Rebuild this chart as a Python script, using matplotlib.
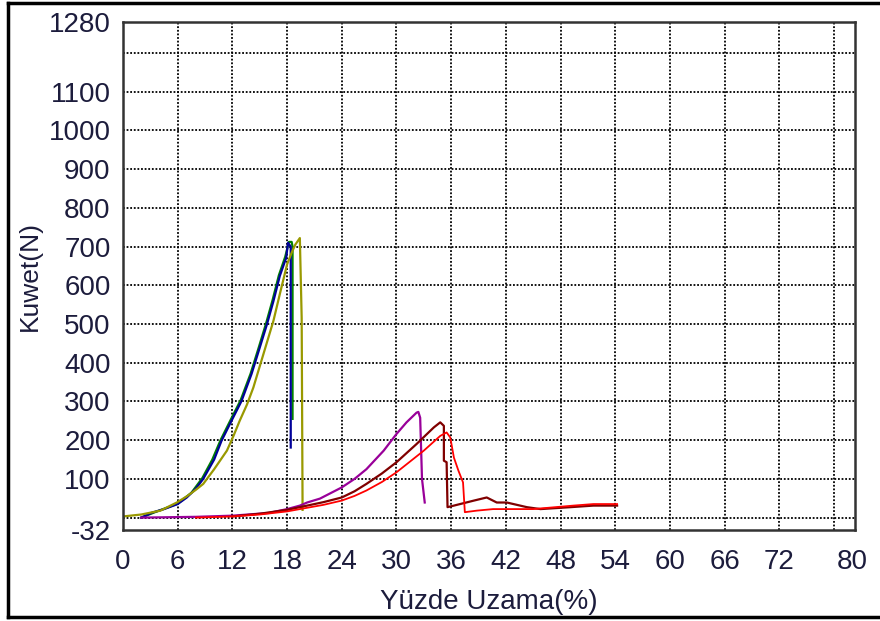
import matplotlib
matplotlib.use("Agg")
import matplotlib.pyplot as plt
from matplotlib.lines import Line2D

plt.rcParams['font.family'] = ['Liberation Sans', 'DejaVu Sans']
plt.rcParams['axes.unicode_minus'] = False

# Kuvvet - uzama egrileri (okunan degerler)
green_x = [2.0, 3.5, 6.0, 7.5, 8.7, 9.8, 10.7, 11.8, 12.9, 14.0, 14.9, 15.7, 16.4, 17.1, 17.8, 18.2, 18.5, 18.6, 18.6]
green_y = [0, 14, 36, 64, 102, 150, 200, 252, 303, 372, 440, 502, 561, 626, 674, 712, 712, 700, 255]

blue_x = [2.0, 3.2, 4.5, 6.0, 7.0, 8.0, 8.8, 10.0, 10.8, 11.9, 13.0, 14.1, 15.0, 15.8, 16.5, 17.2, 17.9, 18.1, 18.4, 18.4]
blue_y = [0, 13, 22, 35, 52, 75, 100, 150, 198, 250, 301, 371, 439, 500, 559, 624, 671, 710, 700, 181]

olive_x = [0, 2.0, 4.1, 5.9, 7.0, 8.0, 8.8, 10.0, 11.4, 12.1, 12.8, 13.6, 14.3, 15.4, 16.5, 17.2, 18.0, 18.5, 18.9, 19.4,
           19.6, 19.7]
olive_y = [3, 8, 18, 39, 55, 72, 87, 125, 173, 210, 250, 292, 336, 422, 508, 577, 654, 684, 705, 722,
           516, 20]

purple_x = [2.0, 8.0, 12.0, 16.0, 18.0, 19.4, 20.2, 21.6, 24.0, 25.4, 26.7, 28.6, 30.0, 31.1, 32.2, 32.4, 32.6, 32.8, 33.1]
purple_y = [0, 2, 5, 12, 22, 31, 39, 49, 78, 100, 125, 173, 216, 246, 271, 273, 258, 100, 39]

darkred_x = [12.0, 15.0, 18.0, 19.4, 22.0, 24.0, 25.4, 26.7, 28.4, 30.0, 32.2, 34.1, 34.8, 35.2, 35.2, 35.5, 35.6,
             36.3, 38.5, 39.9, 41.0, 42.1, 44.3, 45.8, 49.1, 51.6, 54.2]
darkred_y = [3, 10, 20, 27, 40, 52, 68, 87, 114, 143, 190, 233, 246, 237, 147, 143, 27,
             31, 44, 52, 39, 39, 27, 22, 27, 31, 31]

red_x = [8.0, 12.0, 15.0, 18.0, 19.4, 22.0, 24.0, 25.4, 26.7, 28.4, 30.0, 33.0, 34.8, 35.5, 35.9, 36.3, 36.8, 37.3, 37.5,
         38.8, 40.6, 45.0, 49.4, 51.6, 54.2]
red_y = [0, 3, 8, 16, 22, 33, 44, 56, 70, 92, 117, 173, 211, 220, 207, 155, 121, 91, 14,
         18, 22, 22, 31, 35, 35]

x_ticks = [0, 6, 12, 18, 24, 30, 36, 42, 48, 54, 60, 66, 72, 80]
y_ticks = [-32, 100, 200, 300, 400, 500, 600, 700, 800, 900, 1000, 1100, 1280]
x_grid = list(range(6, 80, 6))
y_grid = list(range(0, 1300, 100))

txt = '#1c1c3c'

fig = plt.figure(figsize=(8.8, 6.21), dpi=100)
ax = fig.add_axes([123 / 880, 1 - 530 / 621, 732 / 880, 508 / 621])

# izgara
for gx in x_grid:
    ax.axvline(gx, color='black', linestyle=(0, (1, 1)), linewidth=1.3, zorder=0)
for gy in y_grid:
    ax.axhline(gy, color='black', linestyle=(0, (1, 1)), linewidth=1.3, zorder=0)

ax.plot(green_x, green_y, color='#008000', lw=1.6)
ax.plot(blue_x, blue_y, color='#000099', lw=1.6)
ax.plot(olive_x, olive_y, color='#999900', lw=1.6)
ax.plot(purple_x, purple_y, color='#990099', lw=1.6)
ax.plot(darkred_x, darkred_y, color='#800000', lw=1.6)
ax.plot(red_x, red_y, color='#ff0000', lw=1.3)

ax.set_xlim(0, 80.3)
ax.set_ylim(-32, 1280)
ax.set_xticks(x_ticks)
ax.set_yticks(y_ticks)
ax.tick_params(which='both', length=0)
ax.tick_params(axis='x', pad=14, labelsize=20, labelcolor=txt)
ax.tick_params(axis='y', pad=9, labelsize=20, labelcolor=txt)

for s in ax.spines.values():
    s.set_color('#333333')
    s.set_linewidth(1.8)

ax.set_xlabel('Yüzde Uzama(%)', fontsize=20, color=txt, labelpad=10)
ax.set_ylabel('Kuwet(N)', fontsize=19, color=txt, labelpad=5)

# cerceve
for xs, ys in [([8 / 880, 1], [1 - 3 / 621] * 2),
               ([8 / 880, 1], [1 - 617 / 621] * 2),
               ([8 / 880] * 2, [1 - 3 / 621, 1 - 617 / 621])]:
    fig.add_artist(Line2D(xs, ys, color='black', lw=2.5, transform=fig.transFigure))

fig.savefig('out.png', dpi=100)
